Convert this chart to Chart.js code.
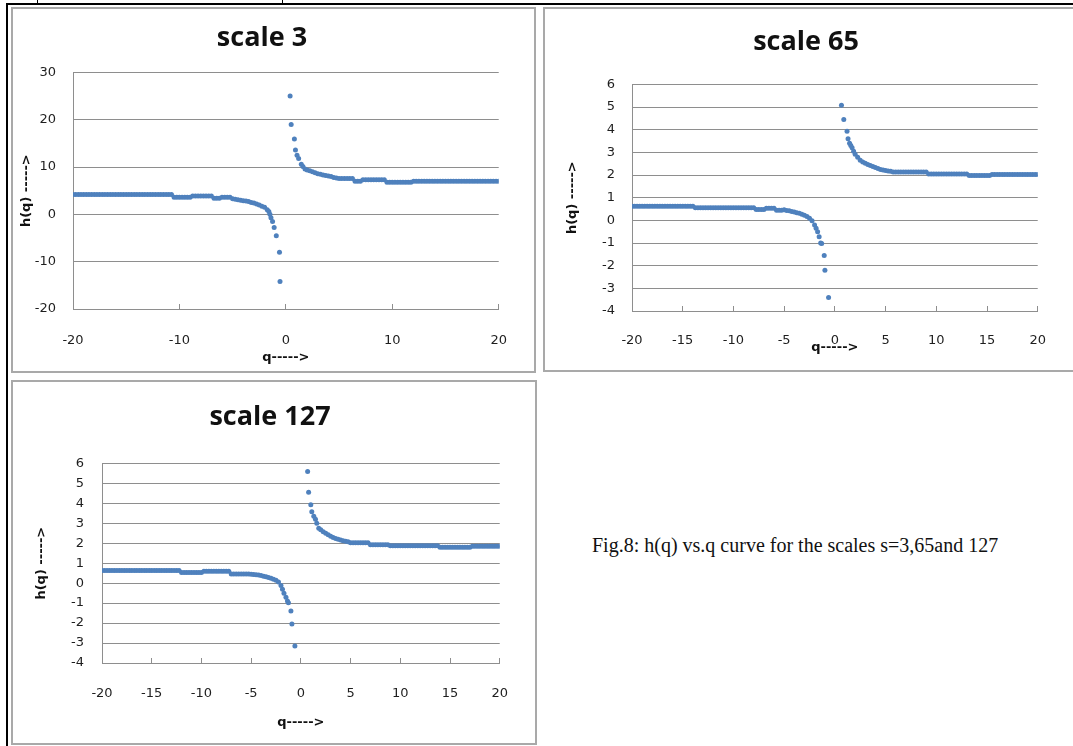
<!DOCTYPE html>
<html>
<head>
<meta charset="utf-8">
<script src="https://cdn.jsdelivr.net/npm/chart.js@4.4.0/dist/chart.umd.min.js"></script>
<style>
  body { margin: 0; background: #fff; width: 1073px; height: 746px; overflow: hidden; position: relative; }
  .rule { position: absolute; background: #000; }
  .panel { position: absolute; border: 2px solid #a9a9a9; box-sizing: border-box; }
  canvas.plot { position: absolute; }
  #caption { position: absolute; left: 592px; top: 533px; font-family: "Liberation Serif", serif; font-size: 20px; line-height: 24px; color: #111; white-space: nowrap; }
</style>
</head>
<body>
<div class="rule" style="left:6px;top:3px;width:1067px;height:2px"></div>
<div class="rule" style="left:6px;top:3px;width:2px;height:743px"></div>
<div class="rule" style="left:37px;top:0;width:1px;height:4px"></div>
<div class="rule" style="left:282px;top:0;width:1px;height:4px"></div>

<div class="panel" style="left:11px;top:7px;width:525px;height:366px"></div>
<div class="panel" style="left:543px;top:7px;width:534px;height:365px"></div>
<div class="panel" style="left:11px;top:380px;width:526px;height:365px"></div>

<canvas class="plot" id="c3" width="525" height="366" style="left:11px;top:7px"></canvas>
<canvas class="plot" id="c65" width="530" height="365" style="left:543px;top:7px"></canvas>
<canvas class="plot" id="c127" width="525" height="365" style="left:11px;top:380px"></canvas>

<div id="caption">Fig.8: h(q) vs.q curve for the scales s=3,65and 127</div>

<script>
// q grid shared by the three panels (the region close to q = 0 is given per panel)
const qLeft = [-20,-19.75,-19.5,-19.25,-19,-18.75,-18.5,-18.25,-18,-17.75,
  -17.5,-17.25,-17,-16.75,-16.5,-16.25,-16,-15.75,-15.5,-15.25,
  -15,-14.75,-14.5,-14.25,-14,-13.75,-13.5,-13.25,-13,-12.75,
  -12.5,-12.25,-12,-11.75,-11.5,-11.25,-11,-10.75,-10.5,-10.25,
  -10,-9.75,-9.5,-9.25,-9,-8.75,-8.5,-8.25,-8,-7.75,
  -7.5,-7.25,-7,-6.75,-6.5,-6.25,-6,-5.75,-5.5,-5.25,
  -5,-4.75,-4.5,-4.25,-4,-3.75,-3.5,-3.25,-3,-2.75,
  -2.5,-2.25,-2];
const qRight = [2,2.25,2.5,2.75,3,3.25,3.5,3.75,4,4.25,
  4.5,4.75,5,5.25,5.5,5.75,6,6.25,6.5,6.75,
  7,7.25,7.5,7.75,8,8.25,8.5,8.75,9,9.25,
  9.5,9.75,10,10.25,10.5,10.75,11,11.25,11.5,11.75,
  12,12.25,12.5,12.75,13,13.25,13.5,13.75,14,14.25,
  14.5,14.75,15,15.25,15.5,15.75,16,16.25,16.5,16.75,
  17,17.25,17.5,17.75,18,18.25,18.5,18.75,19,19.25,
  19.5,19.75,20];

// scale 3
const hLeft3 = [4.2,4.2,4.2,4.2,4.2,4.2,4.2,4.2,4.2,4.2,
  4.2,4.2,4.2,4.2,4.2,4.2,4.2,4.2,4.2,4.2,
  4.2,4.2,4.2,4.2,4.2,4.2,4.2,4.2,4.2,4.2,
  4.2,4.2,4.2,4.2,4.2,4.2,4.2,4.2,
  3.6,3.6,3.6,3.6,3.6,3.6,3.6,
  3.9,3.9,3.9,3.9,3.9,3.9,3.9,3.9,
  3.4,3.4,3.4,
  3.6,3.6,3.6,3.6,
  3.3,3.2,3.1,3.0,2.9,2.8,2.7,2.5,2.4,2.2,2.0,1.7,1.5];
const qNear3 = [-1.75,-1.6,-1.5,-1.4,-1.25,-1.1,-0.9,-0.6,-0.55,
  0.4,0.5,0.8,0.9,1.05,1.2,1.45,1.6,1.8];
const hNear3 = [1.0,0.6,0.0,-0.7,-1.5,-2.8,-4.5,-8,-14.2,
  25,19,15.9,13.6,12.5,11.8,10.6,10.1,9.6];
const hRight3 = [9.4,9.2,9.0,8.8,8.6,8.5,8.3,8.2,8.1,8.0,7.8,7.7,7.6,
  7.6,7.6,7.6,7.6,7.6,
  7.0,7.0,7.0,
  7.3,7.3,7.3,7.3,7.3,7.3,7.3,7.3,7.3,
  6.8,6.8,6.8,6.8,6.8,6.8,6.8,6.8,6.8,6.8,
  7.0,7.0,7.0,7.0,7.0,7.0,7.0,7.0,7.0,7.0,
  7.0,7.0,7.0,7.0,7.0,7.0,7.0,7.0,7.0,7.0,
  7.0,7.0,7.0,7.0,7.0,7.0,7.0,7.0,7.0,7.0,
  7.0,7.0,7.0];

// scale 65
const hLeft65 = [0.62,0.62,0.62,0.62,0.62,0.62,0.62,0.62,0.62,0.62,
  0.62,0.62,0.62,0.62,0.62,0.62,0.62,0.62,0.62,0.62,
  0.62,0.62,0.62,0.62,0.62,
  0.56,0.56,0.56,0.56,0.56,0.56,0.56,0.56,0.56,0.56,
  0.56,0.56,0.56,0.56,0.56,0.56,0.56,0.56,0.56,0.56,
  0.56,0.56,0.56,0.56,
  0.48,0.48,0.48,0.48,
  0.53,0.53,0.53,0.53,
  0.45,0.45,0.45,
  0.47,0.44,0.42,0.39,0.37,0.34,0.31,0.27,0.23,0.17,0.09,-0.02,-0.2];
const qNear65 = [-1.85,-1.7,-1.55,-1.4,-1.3,-1.05,-0.98,-0.62,
  0.65,0.88,1.2,1.3,1.45,1.57,1.7,1.85];
const hNear65 = [-0.35,-0.5,-0.72,-1.0,-1.02,-1.55,-2.2,-3.4,
  5.08,4.45,3.93,3.6,3.4,3.3,3.2,3.05];
const hRight65 = [2.92,2.78,2.65,2.58,2.52,2.47,2.42,2.38,2.33,2.29,2.25,2.22,2.2,2.18,2.17,
  2.13,2.13,2.13,2.13,2.13,2.13,2.13,2.13,2.13,2.13,2.13,2.13,2.13,2.13,
  2.05,2.05,2.05,2.05,2.05,2.05,2.05,2.05,2.05,2.05,2.05,2.05,2.05,2.05,2.05,2.05,
  1.98,1.98,1.98,1.98,1.98,1.98,1.98,1.98,1.98,
  2.02,2.02,2.02,2.02,2.02,2.02,2.02,2.02,2.02,2.02,
  2.02,2.02,2.02,2.02,2.02,2.02,2.02,2.02,2.02];

// scale 127
const hLeft127 = [0.63,0.63,0.63,0.63,0.63,0.63,0.63,0.63,0.63,0.63,
  0.63,0.63,0.63,0.63,0.63,0.63,0.63,0.63,0.63,0.63,
  0.63,0.63,0.63,0.63,0.63,0.63,0.63,0.63,0.63,0.63,
  0.63,0.63,
  0.53,0.53,0.53,0.53,0.53,0.53,0.53,0.53,0.53,
  0.6,0.6,0.6,0.6,0.6,0.6,0.6,0.6,0.6,0.6,0.6,
  0.46,0.46,0.46,0.46,0.46,0.46,0.46,0.46,
  0.45,0.44,0.42,0.41,0.38,0.35,0.32,0.28,0.25,0.2,0.14,0.06,-0.12];
const qNear127 = [-1.85,-1.7,-1.5,-1.35,-1.25,-1.0,-0.9,-0.6,
  0.68,0.78,1.0,1.1,1.3,1.47,1.6,1.8];
const hNear127 = [-0.3,-0.5,-0.7,-0.9,-0.98,-1.4,-2.05,-3.15,
  5.6,4.55,3.93,3.58,3.35,3.2,3.0,2.75];
const hRight127 = [2.68,2.58,2.5,2.42,2.35,2.29,2.24,2.2,2.16,2.13,2.1,2.08,
  2.03,2.03,2.03,2.03,2.03,2.03,2.03,2.03,
  1.93,1.93,1.93,1.93,1.93,1.93,1.93,1.93,
  1.87,1.87,1.87,1.87,1.87,1.87,1.87,1.87,1.87,1.87,
  1.87,1.87,1.87,1.87,1.87,1.87,1.87,1.87,1.87,1.87,
  1.8,1.8,1.8,1.8,1.8,1.8,1.8,1.8,1.8,1.8,1.8,1.8,1.8,
  1.85,1.85,1.85,1.85,1.85,1.85,1.85,1.85,1.85,1.85,1.85,1.85];

const xTicks3 = { min: -20, max: 20, step: 10 };
const xTicksWide = { min: -20, max: 20, step: 5 };
const yTicks3 = { min: -20, max: 30, step: 10 };
const yTicksSmall = { min: -4, max: 6, step: 1 };

const POINT_COLOR = '#4f81bd';
const GRID_COLOR = '#8e8e8e';
const TICK_FONT = { family: 'DejaVu Sans', size: 13 };
const AXIS_TITLE_FONT = { family: 'DejaVu Sans', size: 13, weight: 'bold', lineHeight: 1.2 };

/**
  Zip a list of q values with the matching h(q) values.
*/
function pairs(qs, hs) {
  return qs.map((q, i) => ({ x: q, y: hs[i] }));
}

/**
  Render one h(q) vs q panel.

  @param {Object} options
  @param {Object} options.box fixed layout numbers of the panel (axis sizes, paddings).
*/
function renderPanel({ canvas, title, points, xTicks, yTicks, box }) {
  return new Chart(canvas, {
    type: 'scatter',
    data: {
      datasets: [{
        data: points,
        showLine: false,
        pointRadius: 2.5,
        pointBorderWidth: 0,
        pointBackgroundColor: POINT_COLOR,
        pointBorderColor: POINT_COLOR
      }]
    },
    options: {
      responsive: false,
      animation: false,
      events: [],
      layout: { padding: box.padding },
      plugins: {
        legend: { display: false },
        tooltip: { enabled: false },
        title: {
          display: true,
          text: title,
          color: '#111',
          font: { family: 'Open Sans', size: 27, weight: 'bold', lineHeight: 1.2 },
          padding: box.titlePadding
        }
      },
      scales: {
        x: {
          type: 'linear',
          min: xTicks.min,
          max: xTicks.max,
          afterFit: (scale) => { scale.height = box.xHeight; },
          grid: { drawOnChartArea: false, drawTicks: true, tickLength: -5, color: GRID_COLOR },
          border: { display: true, color: GRID_COLOR },
          ticks: { stepSize: xTicks.step, autoSkip: false, maxRotation: 0, padding: box.xTickPad, color: '#1e1e1e', font: TICK_FONT },
          title: { display: true, text: 'q----->', color: '#111', font: AXIS_TITLE_FONT, padding: 0 }
        },
        y: {
          min: yTicks.min,
          max: yTicks.max,
          afterFit: (scale) => { scale.width = box.yWidth; },
          grid: { drawTicks: false, color: GRID_COLOR },
          border: { display: true, color: GRID_COLOR },
          ticks: { stepSize: yTicks.step, padding: box.yTickPad, color: '#1e1e1e', font: TICK_FONT },
          title: { display: true, text: 'h(q) ----->', color: '#111', font: AXIS_TITLE_FONT, padding: 0 }
        }
      }
    }
  });
}

renderPanel({
  canvas: document.getElementById('c3'),
  title: 'scale 3',
  points: pairs(qLeft, hLeft3).concat(pairs(qNear3, hNear3), pairs(qRight, hRight3)),
  xTicks: xTicks3,
  yTicks: yTicks3,
  box: {
    padding: { left: 8, right: 31, top: 0, bottom: 8 },
    titlePadding: { top: 15, bottom: 18 },
    yWidth: 54, yTickPad: 17,
    xHeight: 56, xTickPad: 29
  }
});

renderPanel({
  canvas: document.getElementById('c65'),
  title: 'scale 65',
  points: pairs(qLeft, hLeft65).concat(pairs(qNear65, hNear65), pairs(qRight, hRight65)),
  xTicks: xTicksWide,
  yTicks: yTicksSmall,
  box: {
    padding: { left: 22, right: 26, top: 0, bottom: 17 },
    titlePadding: { top: 19, bottom: 26 },
    yWidth: 67, yTickPad: 17,
    xHeight: 44, xTickPad: 27
  }
});

renderPanel({
  canvas: document.getElementById('c127'),
  title: 'scale 127',
  points: pairs(qLeft, hLeft127).concat(pairs(qNear127, hNear127), pairs(qRight, hRight127)),
  xTicks: xTicksWide,
  yTicks: yTicksSmall,
  box: {
    padding: { left: 23, right: 30, top: 0, bottom: 15 },
    titlePadding: { top: 21, bottom: 30 },
    yWidth: 68, yTickPad: 18,
    xHeight: 67, xTickPad: 28
  }
});
</script>
</body>
</html>
